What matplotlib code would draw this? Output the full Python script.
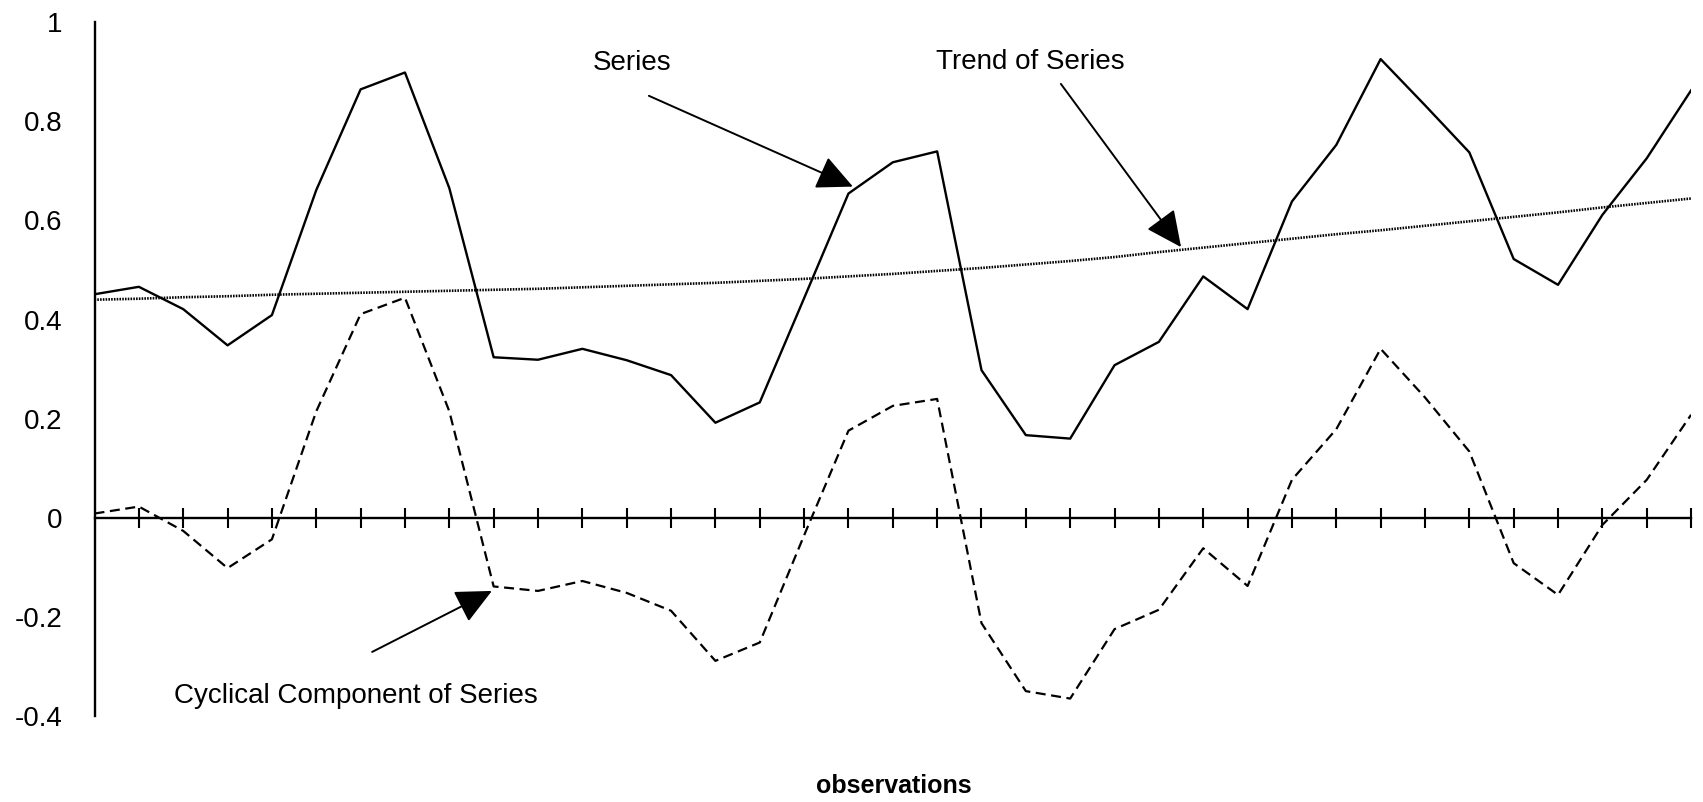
import numpy as np
import matplotlib.pyplot as plt

plt.rcParams["font.family"] = ["Liberation Sans", "DejaVu Sans"]

# observation values
series = [0.451, 0.466, 0.421, 0.348, 0.409, 0.661, 0.864, 0.898, 0.665, 0.324,
          0.319, 0.341, 0.318, 0.288, 0.192, 0.233, 0.443, 0.654, 0.717, 0.739,
          0.298, 0.167, 0.160, 0.308, 0.355, 0.487, 0.421, 0.638, 0.752, 0.925,
          0.832, 0.737, 0.522, 0.470, 0.611, 0.725, 0.862]
trend = [0.440, 0.442, 0.445, 0.447, 0.450, 0.452, 0.454, 0.456, 0.458, 0.460,
         0.462, 0.465, 0.468, 0.471, 0.474, 0.478, 0.482, 0.487, 0.492, 0.498,
         0.504, 0.511, 0.518, 0.526, 0.536, 0.545, 0.554, 0.563, 0.572, 0.580,
         0.589, 0.598, 0.607, 0.616, 0.626, 0.635, 0.644]
cycle = [0.009, 0.023, -0.026, -0.101, -0.043, 0.215, 0.411, 0.444, 0.215, -0.138,
         -0.147, -0.127, -0.151, -0.187, -0.288, -0.251, -0.035, 0.176, 0.226, 0.240,
         -0.212, -0.349, -0.364, -0.224, -0.185, -0.061, -0.137, 0.077, 0.179, 0.341,
         0.243, 0.134, -0.091, -0.155, -0.014, 0.077, 0.208]

yticks = [-0.4, -0.2, 0, 0.2, 0.4, 0.6, 0.8, 1]
ytick_labels = ["-0.4", "-0.2", "0", "0.2", "0.4", "0.6", "0.8", "1"]

x = np.arange(len(series))

fig = plt.figure(figsize=(17.03, 8.02), dpi=100)
ax = fig.add_axes([0.0555, 0.1067, 0.9375, 0.866])

ax.plot(x, series, color="black", lw=1.7)
ax.plot(x, cycle, color="black", lw=1.6, dashes=(4.5, 2.5))
ax.plot(x, trend, color="black", lw=1.9, dashes=(0.6, 0.45))

ax.set_xlim(0, len(series) - 1)
ax.set_ylim(-0.4, 1)

for side in ["top", "right"]:
    ax.spines[side].set_visible(False)
ax.spines["left"].set_linewidth(1.7)
ax.spines["bottom"].set_position(("data", 0))
ax.spines["bottom"].set_linewidth(1.7)

ax.set_xticks(x[1:])
ax.set_xticklabels([])
ax.tick_params(axis="x", direction="inout", length=14, width=1.5)
ax.set_yticks(yticks)
ax.set_yticklabels(ytick_labels)
ax.tick_params(axis="y", length=0, pad=23, labelsize=20)

arrow = dict(arrowstyle="-|>,head_length=0.8,head_width=0.38", color="black",
             lw=1.4, mutation_scale=28, shrinkA=0, shrinkB=0)

ax.text(12.12, 0.917, "Series", ha="center", va="center", fontsize=20)
ax.annotate("", xy=(17.1, 0.668), xytext=(12.5, 0.851), arrowprops=arrow)

ax.text(21.09, 0.919, "Trend of Series", ha="center", va="center", fontsize=20)
ax.annotate("", xy=(24.5, 0.546), xytext=(21.79, 0.875), arrowprops=arrow)

ax.text(5.9, -0.359, "Cyclical Component of Series", ha="center", va="center",
        fontsize=20)
ax.annotate("", xy=(8.96, -0.147), xytext=(6.26, -0.270), arrowprops=arrow)

fig.text(893.5 / 1703, 1 - 786 / 802, "observations", ha="center", va="center",
         fontsize=18, fontweight="bold")

fig.savefig("out.png", dpi=100)
